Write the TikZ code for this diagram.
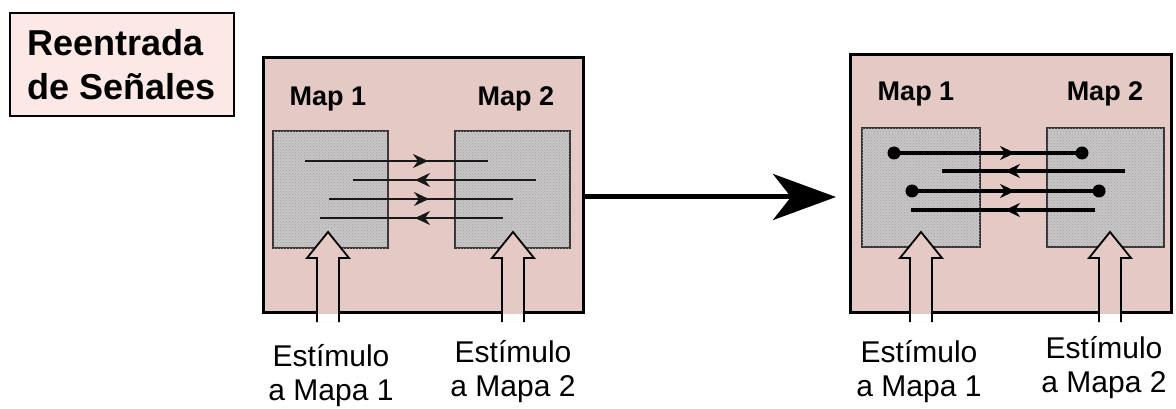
\documentclass[tikz,border=0pt]{standalone}
\usepackage{fontspec}
\setmainfont{Liberation Sans}
\usetikzlibrary{arrows.meta,decorations.markings,patterns}
\definecolor{boxpink}{RGB}{228,201,197}
\definecolor{titlepink}{RGB}{252,233,229}
\definecolor{mapgray}{RGB}{200,198,198}
\definecolor{dotgray}{RGB}{160,158,158}
\tikzset{
  titlebox/.style={draw=black, line width=2.2pt, fill=titlepink, minimum width=224pt, minimum height=103pt, inner sep=0pt, align=left, font=\fontsize{36}{44}\selectfont\bfseries},
  bigbox/.style={draw=black, line width=3pt, fill=boxpink, inner sep=0pt},
  mapbox/.style={draw=black!80, line width=1.8pt, fill=mapgray, inner sep=0pt,
     postaction={pattern=crosshatch dots, pattern color=dotgray}},
  maplabel/.style={font=\fontsize{27}{30}\selectfont\bfseries, anchor=base, inner sep=0pt},
  stimlabel/.style={font=\fontsize{30}{34}\selectfont, anchor=base, inner sep=0pt, align=center},
  thinsig/.style={line width=2.5pt, black!90},
  thicksig/.style={line width=4pt, black},
  tipat/.style={postaction={decorate,decoration={markings,mark=at position #1 with {\arrow{Stealth[length=15pt,width=14pt,inset=5pt]}}}}},
  bigarrow/.style={line width=5pt, -{Stealth[length=63pt,width=46pt,inset=18pt]}},
  uparrow/.pic={
    \fill[boxpink] (-11,0) -- (-11,-64) -- (-21,-64) -- (0,-90) -- (21,-64) -- (11,-64) -- (11,0) -- cycle;
    \fill[white] (-11,0) rectangle (11,-8);
    \draw[line width=1.8pt, line join=miter] (-11,0) -- (-11,-64) -- (-21,-64) -- (0,-90) -- (21,-64) -- (11,-64) -- (11,0);
  },
  dot/.style={fill=black}
}
\begin{document}
\begin{tikzpicture}[x=1pt,y=-1pt]
\useasboundingbox (0,0) rectangle (1176,409);
\fill[white] (0,0) rectangle (1176,409);

% title
\node[titlebox] (title) at (122,64.5) {Reentrada\\de Señales};

% ---------- left panel ----------
\node[bigbox, minimum width=320pt, minimum height=254pt] (L) at (423,185) {};
\node[mapbox, minimum width=115pt, minimum height=117pt] (L1) at (330.5,189.5) {};
\node[mapbox, minimum width=115pt, minimum height=117pt] (L2) at (512.5,189.5) {};
\node[maplabel] (L1t) at (328,106) {Map 1};
\node[maplabel] (L2t) at (516,106) {Map 2};

\coordinate (la1) at (305,161); \coordinate (lb1) at (488,161);
\coordinate (la2) at (353,180); \coordinate (lb2) at (536,180);
\coordinate (la3) at (329,199); \coordinate (lb3) at (513,199);
\coordinate (la4) at (320,218); \coordinate (lb4) at (503,218);
\draw[thinsig, tipat=123pt] (la1) -- (lb1);
\draw[thinsig, tipat=121pt] (lb2) -- (la2);
\draw[thinsig, tipat=100pt] (la3) -- (lb3);
\draw[thinsig, tipat=88pt] (lb4) -- (la4);

\pic at (328,322) {uparrow};
\pic at (513,322) {uparrow};

\node[stimlabel] (S1) at (331,400) {Estímulo\\a Mapa 1};
\node[stimlabel] (S2) at (513,396) {Estímulo\\a Mapa 2};

% ---------- big arrow ----------
\coordinate (bs) at (585,197);
\coordinate (be) at (836,197);
\draw[bigarrow] (bs) -- (be);

% ---------- right panel ----------
\node[bigbox, minimum width=321pt, minimum height=257pt] (R) at (1010.5,183.5) {};
\node[mapbox, minimum width=118pt, minimum height=119pt] (R1) at (921,187.5) {};
\node[mapbox, minimum width=117pt, minimum height=119pt] (R2) at (1105.5,187.5) {};
\node[maplabel] (R1t) at (916,101) {Map 1};
\node[maplabel] (R2t) at (1105,101) {Map 2};

\coordinate (ra1) at (894,153); \coordinate (rb1) at (1082,153);
\coordinate (ra2) at (942,171); \coordinate (rb2) at (1125,171);
\coordinate (ra3) at (912,191); \coordinate (rb3) at (1099,191);
\coordinate (ra4) at (911,210); \coordinate (rb4) at (1095,210);
\draw[thicksig, tipat=121pt] (ra1) -- (rb1);
\draw[thicksig, tipat=120pt] (rb2) -- (ra2);
\draw[thicksig, tipat=103pt] (ra3) -- (rb3);
\draw[thicksig, tipat=90pt] (rb4) -- (ra4);
\fill[dot] (ra1) circle (6.5pt);
\fill[dot] (rb1) circle (6.5pt);
\fill[dot] (ra3) circle (6.5pt);
\fill[dot] (rb3) circle (6.5pt);

\pic at (921,322) {uparrow};
\pic at (1110,322) {uparrow};

\node[stimlabel] (S3) at (919,396) {Estímulo\\a Mapa 1};
\node[stimlabel] (S4) at (1104,392) {Estímulo\\a Mapa 2};
\end{tikzpicture}
\end{document}
